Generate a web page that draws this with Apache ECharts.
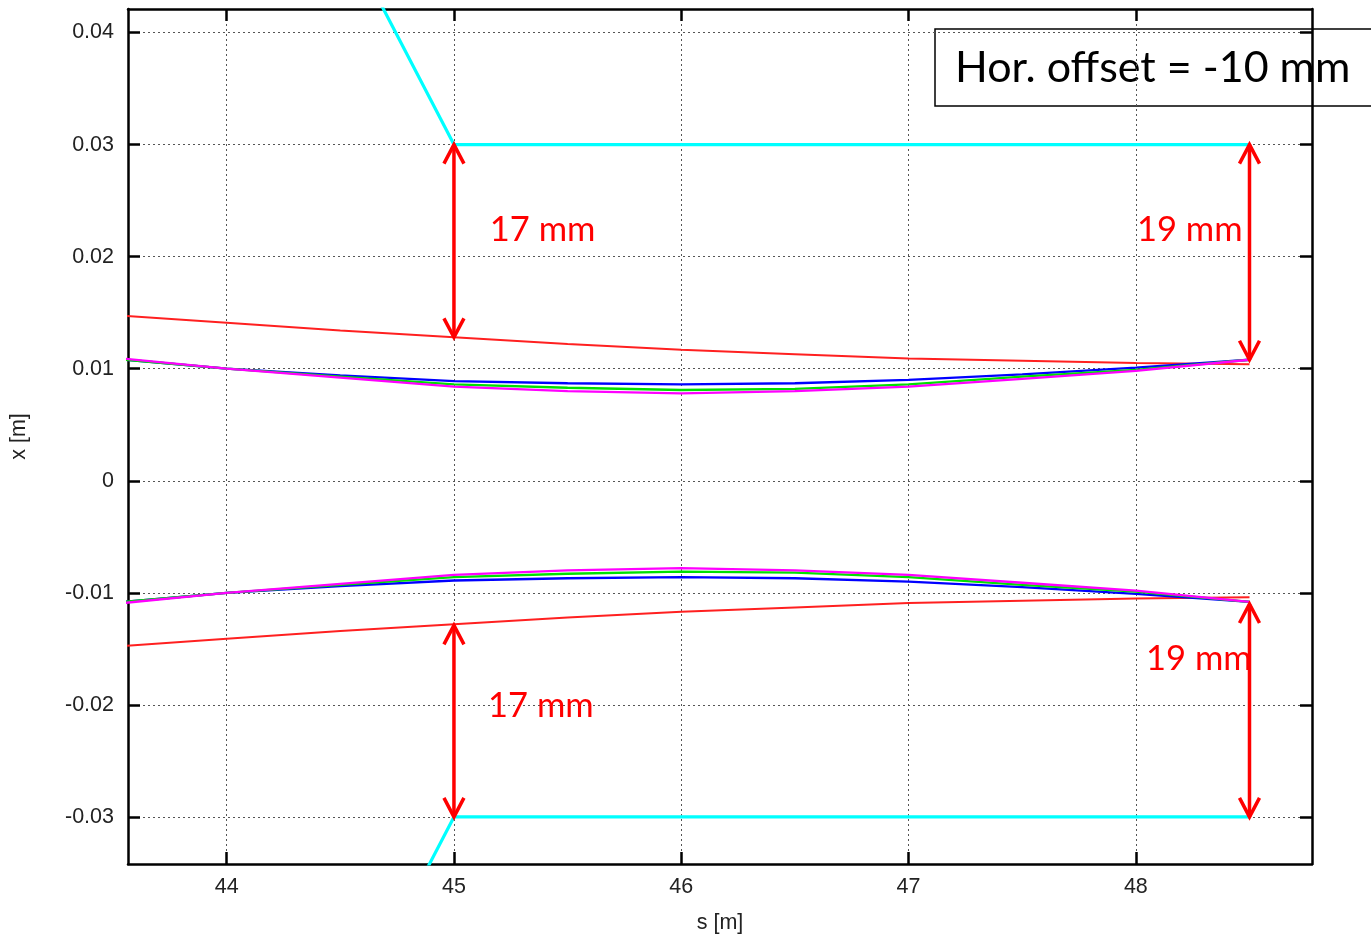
<!DOCTYPE html>
<html><head><meta charset="utf-8">
<script src="https://cdn.jsdelivr.net/npm/echarts@6/dist/echarts.min.js"></script>
<style>html,body{margin:0;padding:0;background:#fff}#c{width:1371px;height:939px}</style>
</head><body><div id="c"></div>
<script>
// ---- data ----
const xTicks = [44, 45, 46, 47, 48];
const yTicks = [-0.03, -0.02, -0.01, 0, 0.01, 0.02, 0.03, 0.04];
const yTickLabels = ['-0.03', '-0.02', '-0.01', '0', '0.01', '0.02', '0.03', '0.04'];

const sPts      = [43.5, 44, 44.5, 45, 45.5, 46, 46.5, 47, 47.5, 48, 48.5];
const redUpper  = [0.0148, 0.0141, 0.0134, 0.0128, 0.0122, 0.0117, 0.0113, 0.0109, 0.0107, 0.0105, 0.0104];
const redLower  = [-0.0148, -0.0141, -0.0134, -0.0128, -0.0122, -0.0117, -0.0113, -0.0109, -0.0107, -0.0105, -0.0104];
const blueUpper = [0.0109, 0.0100, 0.0094, 0.0089, 0.0087, 0.0086, 0.0087, 0.0090, 0.0095, 0.0101, 0.0108];
const blueLower = [-0.0109, -0.0100, -0.0094, -0.0089, -0.0087, -0.0086, -0.0087, -0.0090, -0.0095, -0.0101, -0.0108];
const greenUpper = [0.0109, 0.0100, 0.0093, 0.0086, 0.0083, 0.0081, 0.0082, 0.0086, 0.0093, 0.0099, 0.0108];
const greenLower = [-0.0109, -0.0100, -0.0093, -0.0086, -0.0083, -0.0081, -0.0082, -0.0086, -0.0093, -0.0099, -0.0108];
const magUpper  = [0.0110, 0.0100, 0.0092, 0.0084, 0.0080, 0.0078, 0.0080, 0.0084, 0.0091, 0.0098, 0.0108];
const magLower  = [-0.0110, -0.0100, -0.0092, -0.0084, -0.0080, -0.0078, -0.0080, -0.0084, -0.0091, -0.0098, -0.0108];

const cyanS     = [44.5, 45, 48.5];
const cyanUpper = [0.0495, 0.03, 0.03];
const cyanLower = [-0.0495, -0.03, -0.03];

// arrows: [s, from, to]
const arrows = [[45, 0.03, 0.0128], [48.5, 0.03, 0.0108], [45, -0.0129, -0.03], [48.5, -0.0110, -0.03]];
// annotations: [s, x] and text
const annPos  = [[45.158, 0.02236], [48.005, 0.02236], [45.15, -0.02013], [48.045, -0.01587]];
const annText = ['17 mm', '19 mm', '17 mm', '19 mm'];
const boxText = 'Hor. offset = -10 mm';

// ---- chart ----
const zip = (a, b) => a.map((v, i) => [v, b[i]]);
const chart = echarts.init(document.getElementById('c'), null, {renderer: 'canvas'});
const labelFont = {fontFamily: 'Liberation Sans', fontSize: 21.5, color: '#222'};
const X0 = 43.566, X1 = 48.775, Y0 = -0.0342, Y1 = 0.0421;
const frameLine = {show: true, onZero: false, lineStyle: {color: '#000', width: 2.5}};
const tickStyle = {inside: true, length: 12, lineStyle: {color: '#000', width: 2.5}};
const gridLine = {show: true, lineStyle: {color: '#555', width: 1, type: [2, 3]}};

function lineSeries(data, color, width, z) {
  return {type: 'line', data, showSymbol: false, symbol: 'none', z: z || 2,
    lineStyle: {color, width}, animation: false, silent: true};
}

chart.setOption({
  animation: false,
  grid: {left: 128, right: 59, top: 9, bottom: 73, containLabel: false},
  xAxis: [
    {type: 'value', min: X0, max: X1, position: 'bottom',
     name: 's [m]', nameLocation: 'middle', nameGap: 48,
     nameTextStyle: {fontFamily: 'Liberation Sans', fontSize: 21.5, color: '#222'},
     axisLine: frameLine, axisTick: Object.assign({customValues: xTicks}, tickStyle),
     axisLabel: Object.assign({customValues: xTicks, margin: 12, formatter: v => String(Math.round(v))}, labelFont),
     splitLine: gridLine},
    {type: 'value', min: X0, max: X1, position: 'top',
     axisLine: frameLine, axisTick: Object.assign({customValues: xTicks}, tickStyle),
     axisLabel: {show: false}, splitLine: {show: false}}
  ],
  yAxis: [
    {type: 'value', min: Y0, max: Y1, position: 'left',
     name: 'x [m]', nameLocation: 'middle', nameGap: 98, nameRotate: 90,
     nameTextStyle: {fontFamily: 'Liberation Sans', fontSize: 21.5, color: '#222'},
     axisLine: frameLine, axisTick: Object.assign({customValues: yTicks}, tickStyle),
     axisLabel: Object.assign({customValues: yTicks, margin: 14,
       formatter: v => { const i = yTicks.findIndex(t => Math.abs(t - v) < 1e-9); return i >= 0 ? yTickLabels[i] : ''; }}, labelFont),
     splitLine: gridLine},
    {type: 'value', min: Y0, max: Y1, position: 'right',
     axisLine: frameLine, axisTick: Object.assign({customValues: yTicks}, tickStyle),
     axisLabel: {show: false}, splitLine: {show: false}}
  ],
  series: [
    lineSeries(zip(cyanS, cyanUpper), '#00ffff', 3.2),
    lineSeries(zip(cyanS, cyanLower), '#00ffff', 3.2),
    lineSeries(zip(sPts, redUpper), '#ff2020', 2),
    lineSeries(zip(sPts, redLower), '#ff2020', 2),
    lineSeries(zip(sPts, blueUpper), '#0000ff', 2.3),
    lineSeries(zip(sPts, blueLower), '#0000ff', 2.3),
    lineSeries(zip(sPts, greenUpper), '#00e000', 2.3),
    lineSeries(zip(sPts, greenLower), '#00e000', 2.3),
    lineSeries(zip(sPts, magUpper), '#ff00ff', 2.3),
    lineSeries(zip(sPts, magLower), '#ff00ff', 2.3),
    {type: 'custom', data: arrows, encode: {x: 0, y: [1, 2]}, z: 5, silent: true,
     renderItem: (params, api) => {
       const a = api.coord([api.value(0), api.value(1)]);
       const b = api.coord([api.value(0), api.value(2)]);
       const x = a[0], top = Math.min(a[1], b[1]), bot = Math.max(a[1], b[1]);
       const st = {stroke: '#ff0000', lineWidth: 3.5, fill: null};
       return {type: 'group', children: [
         {type: 'line', shape: {x1: x, y1: top, x2: x, y2: bot}, style: st},
         {type: 'polyline', shape: {points: [[x - 10, top + 19], [x, top], [x + 10, top + 19]]}, style: st},
         {type: 'polyline', shape: {points: [[x - 10, bot - 19], [x, bot], [x + 10, bot - 19]]}, style: st}
       ]};
     }},
    {type: 'custom', data: annPos, encode: {x: 0, y: 1}, z: 6, silent: true,
     renderItem: (params, api) => {
       const p = api.coord([api.value(0), api.value(1)]);
       return {type: 'text', x: p[0], y: p[1], style: {text: annText[params.dataIndex], fill: '#ff0000',
         fontFamily: 'Lato', fontSize: 34.5, align: 'left', verticalAlign: 'middle'}};
     }}
  ],
  graphic: [
    {type: 'group', z: 100, children: [
      {type: 'rect', shape: {x: 935, y: 29, width: 445, height: 77}, style: {fill: '#fff', stroke: '#000', lineWidth: 1.5}},
      {type: 'text', x: 955, y: 68, style: {text: boxText, fill: '#000', fontFamily: 'Lato', fontSize: 43, align: 'left', verticalAlign: 'middle'}}
    ]}
  ]
});
</script></body></html>
